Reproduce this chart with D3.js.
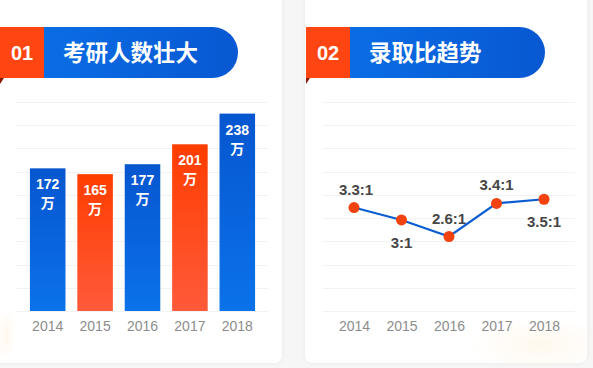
<!DOCTYPE html>
<html><head><meta charset="utf-8">
<script src="https://cdn.jsdelivr.net/npm/d3@7/dist/d3.min.js"></script>
<style>
html,body{margin:0;padding:0;background:#f6f6f7;}
svg{display:block;font-family:"Liberation Sans",Arial,"Noto Sans CJK SC",sans-serif;}
</style></head><body>
<script>
const years = ["2014","2015","2016","2017","2018"];
const applicants = [172, 165, 177, 201, 238];
const applicantLabels = ["172","165","177","201","238"];
const barColorKind = ["blue","red","blue","red","blue"];
const ratios = [3.3, 3.0, 2.6, 3.4, 3.5];
const ratioLabels = ["3.3:1","3:1","2.6:1","3.4:1","3.5:1"];
const ratioLabelSide = ["above","below","above","above","below"];
const titles = ["考研人数壮大","录取比趋势"];
const numbers = ["01","02"];

const W = 593, H = 368;
const svg = d3.select("body").append("svg").attr("width", W).attr("height", H);
const defs = svg.append("defs");

function lin(id, x2, y2, stops){
  const g = defs.append("linearGradient").attr("id", id)
    .attr("x1","0").attr("y1","0").attr("x2",x2).attr("y2",y2);
  stops.forEach(s=>g.append("stop").attr("offset",s[0]).attr("stop-color",s[1]));
}
lin("gBlue","0","1",[[0,"#0656cf"],[1,"#0b72ea"]]);
lin("gRed","0","1",[[0,"#ff3d00"],[1,"#ff5a3a"]]);
lin("gPill","1","0",[[0,"#0a6de4"],[1,"#0858d2"]]);
const glow = defs.append("radialGradient").attr("id","gGlow");
glow.append("stop").attr("offset",0).attr("stop-color","#fff5e6").attr("stop-opacity",0.7);
glow.append("stop").attr("offset",1).attr("stop-color","#fff5e6").attr("stop-opacity",0);
const sh = defs.append("filter").attr("id","shadow").attr("x","-5%").attr("y","-5%").attr("width","110%").attr("height","110%");
sh.append("feDropShadow").attr("dx",0).attr("dy",0).attr("stdDeviation",2).attr("flood-color","#000").attr("flood-opacity",0.06);

// cards
const cards = [{x:-6, w:288}, {x:305, w:282}];
cards.forEach(c=>{
  svg.append("rect").attr("x",c.x).attr("y",-8).attr("width",c.w).attr("height",371)
    .attr("rx",8).attr("fill","#fff").attr("filter","url(#shadow)");
});
// faint glows
svg.append("ellipse").attr("cx",6).attr("cy",335).attr("rx",10).attr("ry",26).attr("fill","url(#gGlow)");
svg.append("ellipse").attr("cx",540).attr("cy",345).attr("rx",70).attr("ry",28).attr("fill","url(#gGlow)");

// headers
function header(x0, pillEnd, num, title){
  const top = 27, h = 51;
  svg.append("path").attr("d",`M${x0},${top+h} L${x0+4},${top+h} L${x0},${top+h+6} Z`).attr("fill","#8a1a06");
  svg.append("path")
    .attr("d",`M${x0+44},${top} L${pillEnd-h/2},${top} A${h/2},${h/2} 0 0 1 ${pillEnd-h/2},${top+h} L${x0+44},${top+h} Z`)
    .attr("fill","url(#gPill)");
  svg.append("rect").attr("x",x0).attr("y",top).attr("width",44).attr("height",h).attr("fill","#ff4612");
  svg.append("text").attr("x",x0+22).attr("y",top+h/2).attr("dy","0.36em").attr("text-anchor","middle")
    .attr("fill","#fff").attr("font-weight","bold").attr("font-size",20).text(num);
  svg.append("text").attr("x",x0+63).attr("y",top+h/2).attr("dy","0.37em")
    .attr("fill","#fff").attr("font-weight","bold").attr("font-size",22.5)
    .attr("font-family","'Noto Sans CJK SC',sans-serif").text(title);
}
header(0, 238, numbers[0], titles[0]);
header(306, 545, numbers[1], titles[1]);

const yTop = 102, yBot = 311;
const gridVals = d3.range(10);

// ---- left bar chart ----
const xL = d3.scaleBand().domain(years).range([24, 261]).paddingInner(0.25).paddingOuter(0.125);
const yL = d3.scaleLinear().domain([0, 252]).range([yBot, yTop]);
const gridL = d3.scaleLinear().domain([0,9]).range([yBot, yTop]);
svg.append("g").selectAll("line").data(gridVals).join("line")
  .attr("x1",16).attr("x2",268).attr("y1",d=>Math.round(gridL(d))+0.5).attr("y2",d=>Math.round(gridL(d))+0.5)
  .attr("stroke","#f1f2f4").attr("stroke-width",1);
svg.append("g").selectAll("rect").data(applicants).join("rect")
  .attr("x",(d,i)=>xL(years[i])).attr("width",xL.bandwidth())
  .attr("y",d=>yL(d)).attr("height",d=>yBot-yL(d))
  .attr("fill",(d,i)=>barColorKind[i]==="blue"?"url(#gBlue)":"url(#gRed)");
const lbl = svg.append("g").attr("fill","#fff").attr("font-weight","bold").attr("text-anchor","middle");
applicants.forEach((d,i)=>{
  const cx = xL(years[i]) + xL.bandwidth()/2;
  lbl.append("text").attr("x",cx).attr("y",yL(d)+21).attr("font-size",14).text(applicantLabels[i]);
  lbl.append("text").attr("x",cx).attr("y",yL(d)+40).attr("font-size",14)
    .attr("font-family","'Noto Sans CJK SC',sans-serif").text("万");
});
const axL = svg.append("g").attr("transform",`translate(0,${yBot})`)
  .call(d3.axisBottom(xL).tickSize(0).tickPadding(10));
axL.select(".domain").remove();
axL.selectAll("text").attr("font-size",14).attr("fill","#8c8c8c").attr("font-family","'Liberation Sans',Arial,sans-serif");

// ---- right line chart ----
const xR = d3.scalePoint().domain(years).range([354, 544]);
const yR = d3.scaleLinear().domain([0.8, 5.85]).range([yBot, yTop]);
svg.append("g").selectAll("line").data(gridVals).join("line")
  .attr("x1",323).attr("x2",575).attr("y1",d=>Math.round(gridL(d))+0.5).attr("y2",d=>Math.round(gridL(d))+0.5)
  .attr("stroke","#f1f2f4").attr("stroke-width",1);
const line = d3.line().x((d,i)=>xR(years[i])).y(d=>yR(d));
svg.append("path").datum(ratios).attr("d",line).attr("fill","none")
  .attr("stroke","#0a5ed2").attr("stroke-width",2.2);
svg.append("g").selectAll("circle").data(ratios).join("circle")
  .attr("cx",(d,i)=>xR(years[i])).attr("cy",d=>yR(d)).attr("r",5.5).attr("fill","#f2420f");
svg.append("g").selectAll("text").data(ratios).join("text")
  .attr("x",(d,i)=>xR(years[i]) + (i===0?2:0))
  .attr("y",(d,i)=>ratioLabelSide[i]==="above"? yR(d)-13 : yR(d)+28)
  .attr("text-anchor","middle").attr("font-size",15).attr("font-weight","bold").attr("fill","#464646")
  .text((d,i)=>ratioLabels[i]);
const axR = svg.append("g").attr("transform",`translate(0,${yBot})`)
  .call(d3.axisBottom(xR).tickSize(0).tickPadding(10));
axR.select(".domain").remove();
axR.selectAll("text").attr("font-size",14).attr("fill","#8c8c8c").attr("font-family","'Liberation Sans',Arial,sans-serif");
</script>
</body></html>
